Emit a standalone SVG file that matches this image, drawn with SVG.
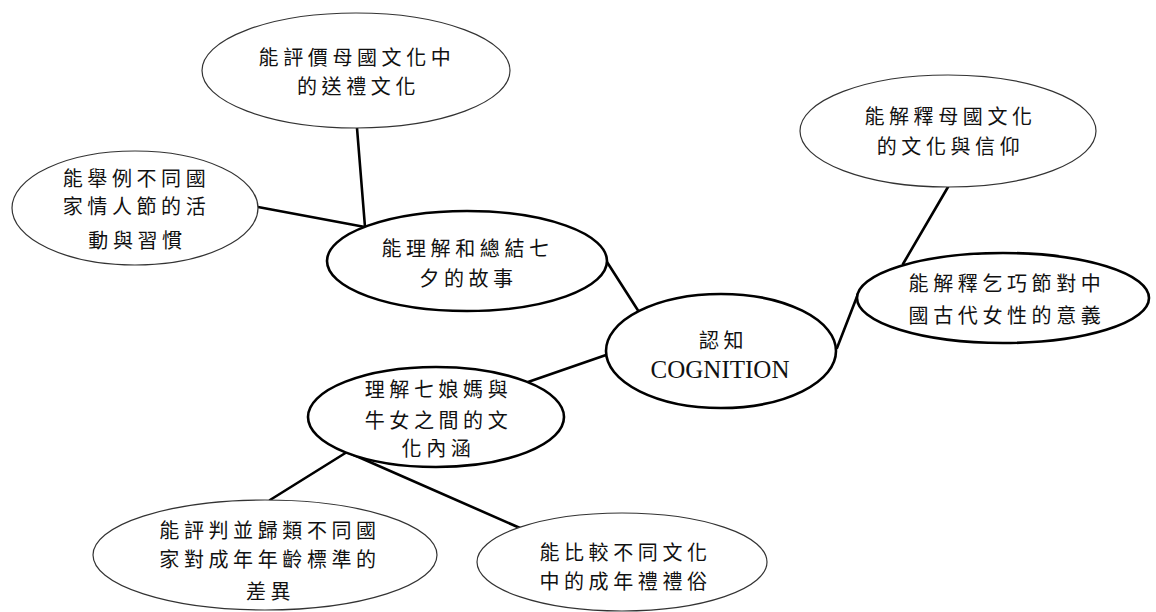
<svg xmlns="http://www.w3.org/2000/svg" width="1156" height="612" viewBox="0 0 1156 612">
<style>
.thin{fill:#fff;stroke:#333;stroke-width:1.2}
.thick{fill:#fff;stroke:#000;stroke-width:2.6}
.t{font-family:"Noto Sans CJK TC","Noto Sans CJK SC",sans-serif;font-size:20px;letter-spacing:4.6px;text-anchor:middle;fill:#111}
.en{font-family:"Liberation Serif",serif;font-size:25px;text-anchor:middle;fill:#111}
.conn line{stroke:#000;stroke-width:2.6;stroke-linecap:round}
</style>
<rect width="1156" height="612" fill="#fff"/>
<g id="connectors" class="conn">
<line x1="357" y1="128" x2="365" y2="227"/>
<line x1="258" y1="207" x2="365" y2="227"/>
<line x1="607" y1="262" x2="639" y2="312"/>
<line x1="606" y1="355" x2="528" y2="382"/>
<line x1="347" y1="452" x2="270" y2="500"/>
<line x1="347" y1="452" x2="520" y2="528"/>
<line x1="948" y1="187" x2="903" y2="264"/>
<line x1="837" y1="348" x2="858" y2="294"/>
</g>
<g id="top">
<ellipse class="thin" cx="356" cy="70.5" rx="154" ry="57.5"/>
<text class="t" x="357" y="65">能評價母國文化中</text>
<text class="t" x="358.5" y="94">的送禮文化</text>
</g>
<g id="left">
<ellipse class="thin" cx="135" cy="208" rx="123" ry="57"/>
<text class="t" x="136.5" y="186">能舉例不同國</text>
<text class="t" x="136.5" y="214">家情人節的活</text>
<text class="t" x="137.5" y="248">動與習慣</text>
</g>
<g id="qixi">
<ellipse class="thick" cx="467" cy="261" rx="140" ry="50"/>
<text class="t" x="467.5" y="256">能理解和總結七</text>
<text class="t" x="468.5" y="286">夕的故事</text>
</g>
<g id="center">
<ellipse class="thick" cx="721" cy="351" rx="115" ry="57"/>
<text class="t" x="723.5" y="348">認知</text>
<text class="en" x="720" y="378">COGNITION</text>
</g>
<g id="qiniangma">
<ellipse class="thick" cx="436" cy="417" rx="128" ry="50"/>
<text class="t" x="438.5" y="397">理解七娘媽與</text>
<text class="t" x="438.5" y="428">牛女之間的文</text>
<text class="t" x="438.5" y="456">化內涵</text>
</g>
<g id="bottomleft">
<ellipse class="thin" cx="265" cy="555" rx="172" ry="55"/>
<text class="t" x="270" y="538">能評判並歸類不同國</text>
<text class="t" x="270" y="567">家對成年年齡標準的</text>
<text class="t" x="270.5" y="599">差異</text>
</g>
<g id="bottomright">
<ellipse class="thin" cx="622" cy="562" rx="145" ry="49"/>
<text class="t" x="625.5" y="560">能比較不同文化</text>
<text class="t" x="625.5" y="589">中的成年禮禮俗</text>
</g>
<g id="topright">
<ellipse class="thin" cx="948" cy="131" rx="148" ry="56"/>
<text class="t" x="950.5" y="124">能解釋母國文化</text>
<text class="t" x="950.5" y="154">的文化與信仰</text>
</g>
<g id="right">
<ellipse class="thick" cx="1003" cy="298" rx="146" ry="45"/>
<text class="t" x="1007" y="291">能解釋乞巧節對中</text>
<text class="t" x="1007" y="323">國古代女性的意義</text>
</g>
</svg>
